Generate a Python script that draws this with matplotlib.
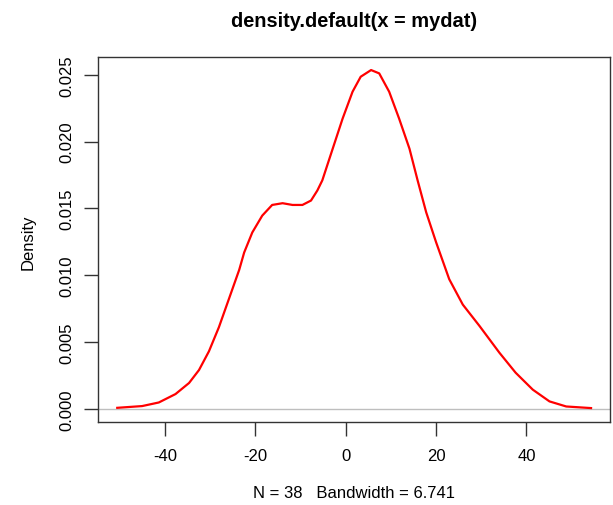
import matplotlib
matplotlib.use("Agg")
import matplotlib.pyplot as plt

# Density curve values
x_vals = [-50.6, -45.1, -41.4, -37.7, -34.7, -32.5, -30.3, -28.1, -25.9, -23.6,
          -22.5, -20.7, -18.5, -16.3, -14.0, -11.8, -9.6, -7.7, -6.3, -5.2,
          -2.9, -0.7, 1.5, 3.3, 5.6, 7.4, 9.6, 11.8, 14.1, 15.9,
          17.8, 20.0, 22.9, 25.9, 29.6, 34.0, 37.6, 41.4, 45.1, 48.8, 54.3]
y_vals = [0.00007, 0.00020, 0.00047, 0.00110, 0.00193, 0.00290, 0.00430, 0.00610, 0.00820, 0.01040,
          0.01170, 0.01320, 0.01446, 0.01526, 0.01539, 0.01526, 0.01526, 0.01559, 0.01634, 0.01710,
          0.01947, 0.02173, 0.02374, 0.02486, 0.02536, 0.02511, 0.02374, 0.02173, 0.01947, 0.01710,
          0.01471, 0.01246, 0.00970, 0.00780, 0.00620, 0.00420, 0.00270, 0.00143, 0.00055, 0.00017, 0.00005]
x_ticks = [-40, -20, 0, 20, 40]
y_ticks = [0.000, 0.005, 0.010, 0.015, 0.020, 0.025]
y_tick_labels = ["0.000", "0.005", "0.010", "0.015", "0.020", "0.025"]
title = "density.default(x = mydat)"
x_label = "N = 38   Bandwidth = 6.741"
y_label = "Density"

plt.rcParams['font.family'] = ['Liberation Sans', 'DejaVu Sans']

fig = plt.figure(figsize=(6.13, 5.06), dpi=100)
ax = fig.add_axes([98.3 / 613, 1 - 423.3 / 506, (610 - 98.3) / 613, (423.3 - 57.5) / 506])

ax.axhline(0, color="#bebebe", lw=1.0, zorder=1)
ax.plot(x_vals, y_vals, color="red", lw=1.6, zorder=2, solid_joinstyle="round")

xmin, xmax = min(x_vals), max(x_vals)
r = xmax - xmin
ax.set_xlim(xmin - 0.04 * r, xmax + 0.04 * r)
ymax = max(y_vals)
ax.set_ylim(-0.04 * ymax, 1.04 * ymax)

ax.set_xticks(x_ticks)
ax.set_xticklabels([str(t) for t in x_ticks], fontsize=12)
ax.set_yticks(y_ticks)
ax.set_yticklabels(y_tick_labels, fontsize=12, rotation=90, va="center")
ax.tick_params(axis="both", direction="out", length=10, width=1, color="#333333")
ax.tick_params(axis="x", pad=8.5)
ax.tick_params(axis="y", pad=7)

for s in ax.spines.values():
    s.set_color("#333333")
    s.set_linewidth(1)

ax.set_title(title, fontsize=14.4, fontweight="bold", pad=22)
fig.text(354 / 613, 1 - 494 / 506, x_label, ha="center", va="center", fontsize=12)
fig.text(28 / 613, 1 - 242 / 506, y_label, ha="center", va="center", rotation=90, fontsize=12)

fig.savefig("out.png", dpi=100)
